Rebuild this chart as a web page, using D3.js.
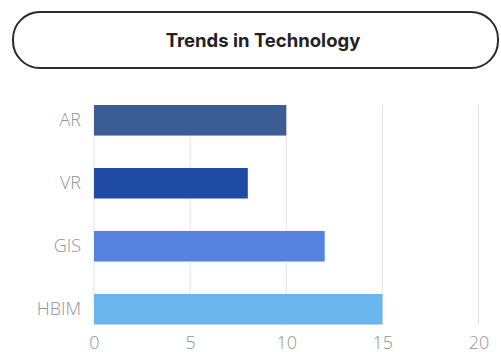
<!DOCTYPE html>
<html>
<head>
<meta charset="utf-8">
<script src="https://cdn.jsdelivr.net/npm/d3@7"></script>
<style>
  html, body { margin: 0; padding: 0; background: #fff; }
  svg { display: block; }
</style>
</head>
<body>
<script>
// Technologies and their counts
const categories = ["AR", "VR", "GIS", "HBIM"];
const values = [10, 8, 12, 15];
const barColors = ["#3b5c95", "#1f4ba7", "#5683df", "#6bb5ef"];
const xTicks = [0, 5, 10, 15, 20];
const title = "Trends in Technology";

const W = 501, H = 352;
const svg = d3.select("body").append("svg").attr("width", W).attr("height", H);

// Title pill
svg.append("rect")
  .attr("x", 13).attr("y", 12)
  .attr("width", 485).attr("height", 56)
  .attr("rx", 27).attr("ry", 27)
  .attr("fill", "#fff")
  .attr("stroke", "#2b2b2b")
  .attr("stroke-width", 2);

svg.append("text")
  .attr("x", 263).attr("y", 47)
  .attr("text-anchor", "middle")
  .attr("font-family", "Inter, 'DejaVu Sans', sans-serif")
  .attr("font-weight", 700)
  .attr("font-size", 18.5)
  .attr("fill", "#222")
  .text(title);

// Scales
const x = d3.scaleLinear().domain([0, 20]).range([94, 478.5]);
const y = d3.scaleBand().domain(categories)
  .range([88.8, 340.7])
  .paddingInner(0.515)
  .paddingOuter(0.2575);

const gridTop = 105, gridBottom = 325;

// Vertical gridlines
svg.append("g").selectAll("line").data(xTicks).join("line")
  .attr("x1", d => x(d)).attr("x2", d => x(d))
  .attr("y1", gridTop).attr("y2", gridBottom)
  .attr("stroke", "#e3e3e3").attr("stroke-width", 1);

// Bars
svg.append("g").selectAll("rect").data(categories).join("rect")
  .attr("x", x(0))
  .attr("y", d => y(d))
  .attr("width", (d, i) => x(values[i]) - x(0))
  .attr("height", y.bandwidth())
  .attr("fill", (d, i) => barColors[i]);

// Category axis
const yAxis = d3.axisLeft(y).tickSize(0).tickPadding(13);
const gy = svg.append("g").attr("transform", `translate(${x(0)},0)`).call(yAxis);
gy.select(".domain").remove();
gy.selectAll("text")
  .attr("font-family", "'Open Sans', sans-serif")
  .attr("font-weight", 300)
  .attr("font-size", 18)
  .attr("fill", "#949494");

// Value axis
const xAxis = d3.axisBottom(x).tickValues(xTicks).tickSize(0).tickPadding(0);
const gx = svg.append("g").attr("transform", `translate(0,${gridBottom})`).call(xAxis);
gx.select(".domain").remove();
gx.selectAll("text")
  .attr("dy", null)
  .attr("y", 23.5)
  .attr("font-family", "'Open Sans', sans-serif")
  .attr("font-weight", 300)
  .attr("font-size", 18)
  .attr("fill", "#949494");
</script>
</body>
</html>
